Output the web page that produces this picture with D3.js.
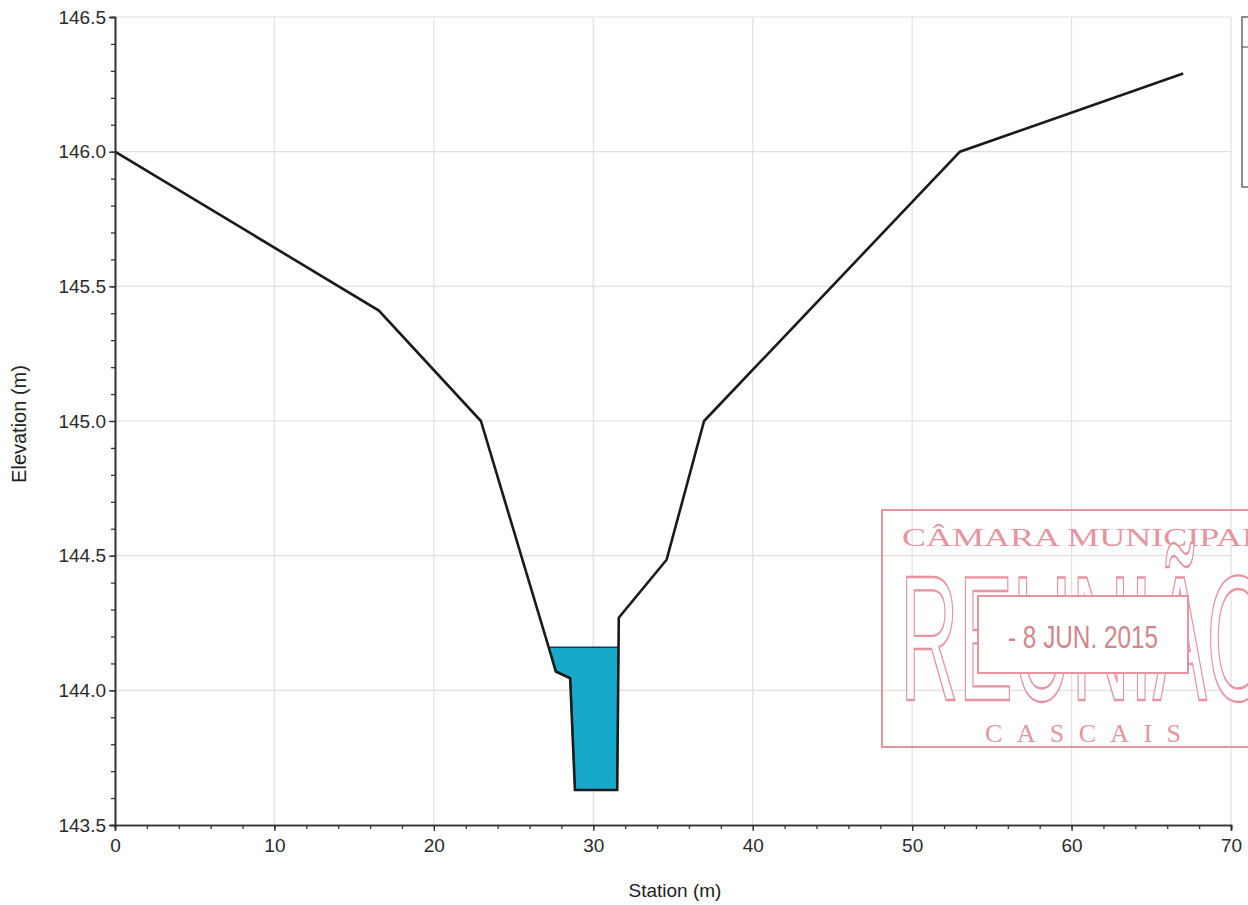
<!DOCTYPE html>
<html>
<head>
<meta charset="utf-8">
<script src="https://cdn.jsdelivr.net/npm/d3@7"></script>
<style>
  html, body { margin: 0; padding: 0; background: #fff; }
  svg { display: block; }
</style>
</head>
<body>
<svg id="chart" width="1248" height="905"></svg>
<script>
// ---- data ----
const stations   = [0, 16.55, 22.95, 27.2, 27.65, 28.55, 28.85, 31.5, 31.6, 34.6, 36.95, 53.0, 67.0];
const elevations = [146.0, 145.41, 145.0, 144.16, 144.07, 144.045, 143.63, 143.63, 144.27, 144.485, 145.0, 146.0, 146.29];
const waterSurface = 144.16;
const xTicks = [0, 10, 20, 30, 40, 50, 60, 70];
const yTicks = [143.5, 144.0, 144.5, 145.0, 145.5, 146.0, 146.5];
const xTitle = "Station (m)";
const yTitle = "Elevation (m)";
const stampTop = "CÂMARA MUNICIPAL";
const stampBig = "REUNIÃO";
const stampDate = "- 8 JUN. 2015";
const stampBottom = "CASCAIS";

// ---- layout ----
const svg = d3.select("#chart");
const pLeft = 115, pRight = 1231, pTop = 17, pBottom = 825;
const x = d3.scaleLinear().domain([0, 70]).range([pLeft, pRight]);
const y = d3.scaleLinear().domain([143.5, 146.5]).range([pBottom, pTop]);
const font = "'Liberation Sans', Arial, sans-serif";

// gridlines
const grid = svg.append("g");
grid.selectAll("line.vx").data(xTicks.slice(1)).join("line")
  .attr("x1", d => x(d)).attr("x2", d => x(d))
  .attr("y1", pTop).attr("y2", pBottom)
  .attr("stroke", "#e0e0e0").attr("stroke-width", 1.2);
grid.selectAll("line.hy").data(yTicks.slice(1)).join("line")
  .attr("x1", pLeft).attr("x2", pRight)
  .attr("y1", d => y(d)).attr("y2", d => y(d))
  .attr("stroke", "#e0e0e0").attr("stroke-width", 1.2);

// water polygon computed from ground profile and water surface
const pts = stations.map((s, i) => [s, elevations[i]]);
function crossings(ws) {
  const res = [];
  for (let i = 0; i < pts.length - 1; i++) {
    const [x0, y0] = pts[i], [x1, y1] = pts[i + 1];
    if ((y0 - ws) * (y1 - ws) <= 0 && y0 !== y1) {
      res.push([x0 + (ws - y0) / (y1 - y0) * (x1 - x0), i]);
    }
  }
  return res;
}
const cr = crossings(waterSurface);
const minIdx = d3.minIndex(elevations);
const lc = cr.filter(c => c[1] < minIdx).pop();
const rc = cr.filter(c => c[1] >= minIdx)[0];
const waterPts = [[lc[0], waterSurface]];
for (let i = lc[1] + 1; i <= rc[1]; i++) waterPts.push(pts[i]);
waterPts.push([rc[0], waterSurface]);

svg.append("path")
  .attr("d", d3.line().x(d => x(d[0])).y(d => y(d[1]))(waterPts) + "Z")
  .attr("fill", "#17a9c9").attr("stroke", "#1a3b55").attr("stroke-width", 1.5);

// ground line
svg.append("path")
  .attr("d", d3.line().x(d => x(d[0])).y(d => y(d[1]))(pts))
  .attr("fill", "none").attr("stroke", "#1a1a1a").attr("stroke-width", 2.6)
  .attr("stroke-linejoin", "miter");

// axes
svg.append("g").attr("transform", `translate(${pLeft},0)`)
  .call(d3.axisLeft(y).tickValues(yTicks).tickFormat(d3.format(".1f")).tickSize(6).tickPadding(3));
svg.append("g").attr("transform", `translate(0,${pBottom})`)
  .call(d3.axisBottom(x).tickValues(xTicks).tickFormat(d3.format("d")).tickSize(6).tickPadding(8));
// minor ticks
const yMinor = d3.range(0, 31).map(i => 143.5 + i * 0.1);
svg.append("g").attr("transform", `translate(${pLeft},0)`)
  .call(d3.axisLeft(y).tickValues(yMinor).tickFormat("").tickSize(4));
const xMinor = d3.range(0, 36).map(i => i * 2);
svg.append("g").attr("transform", `translate(0,${pBottom})`)
  .call(d3.axisBottom(x).tickValues(xMinor).tickFormat("").tickSize(4));
svg.selectAll(".domain").attr("stroke", "#333").attr("stroke-width", 1.6);
svg.selectAll(".tick line").attr("stroke", "#333").attr("stroke-width", 1.3);
svg.selectAll(".tick text").attr("fill", "#2a2a2a").style("font-family", font).style("font-size", "19px");

// axis titles
svg.append("text").attr("x", 675).attr("y", 897).attr("text-anchor", "middle")
  .style("font-family", font).style("font-size", "19px").attr("fill", "#222").text(xTitle);
svg.append("text").attr("transform", "translate(26,424) rotate(-90)").attr("text-anchor", "middle")
  .style("font-family", font).style("font-size", "20px").attr("fill", "#222").text(yTitle);

// legend box (cut off at right edge)
svg.append("rect").attr("x", 1242).attr("y", 17).attr("width", 80).attr("height", 170)
  .attr("fill", "#fff").attr("stroke", "#444").attr("stroke-width", 1.2);
svg.append("line").attr("x1", 1242).attr("x2", 1322).attr("y1", 47).attr("y2", 47)
  .attr("stroke", "#444").attr("stroke-width", 1.2);

// stamp
const stampColor = "#e48f9b";
const stamp = svg.append("g").attr("opacity", 0.95);
stamp.append("rect").attr("x", 882).attr("y", 510).attr("width", 420).attr("height", 237)
  .attr("fill", "none").attr("stroke", stampColor).attr("stroke-width", 2);
stamp.append("text").attr("x", 902).attr("y", 546)
  .attr("textLength", 362).attr("lengthAdjust", "spacingAndGlyphs")
  .style("font-family", "'Liberation Serif', 'DejaVu Serif', serif").style("font-size", "26px")
  .attr("fill", stampColor).text(stampTop);
stamp.append("text").attr("x", 900).attr("y", 700)
  .attr("textLength", 370).attr("lengthAdjust", "spacingAndGlyphs")
  .style("font-family", font).style("font-size", "178px")
  .attr("fill", "#fff").attr("stroke", stampColor).attr("stroke-width", 2.4).text(stampBig);
stamp.append("rect").attr("x", 978).attr("y", 596).attr("width", 210).attr("height", 77)
  .attr("fill", "#fff").attr("stroke", stampColor).attr("stroke-width", 2);
stamp.append("text").attr("x", 1083).attr("y", 648).attr("text-anchor", "middle")
  .attr("textLength", 150).attr("lengthAdjust", "spacingAndGlyphs")
  .style("font-family", "'Liberation Sans Narrow', " + font).style("font-size", "32px")
  .attr("fill", "#d07f86").text(stampDate);
stamp.append("text").attr("x", 985).attr("y", 742)
  .attr("textLength", 196).attr("lengthAdjust", "spacing")
  .style("font-family", "'Liberation Serif', 'DejaVu Serif', serif").style("font-size", "26px")
  .attr("fill", stampColor).text(stampBottom);
</script>
</body>
</html>
